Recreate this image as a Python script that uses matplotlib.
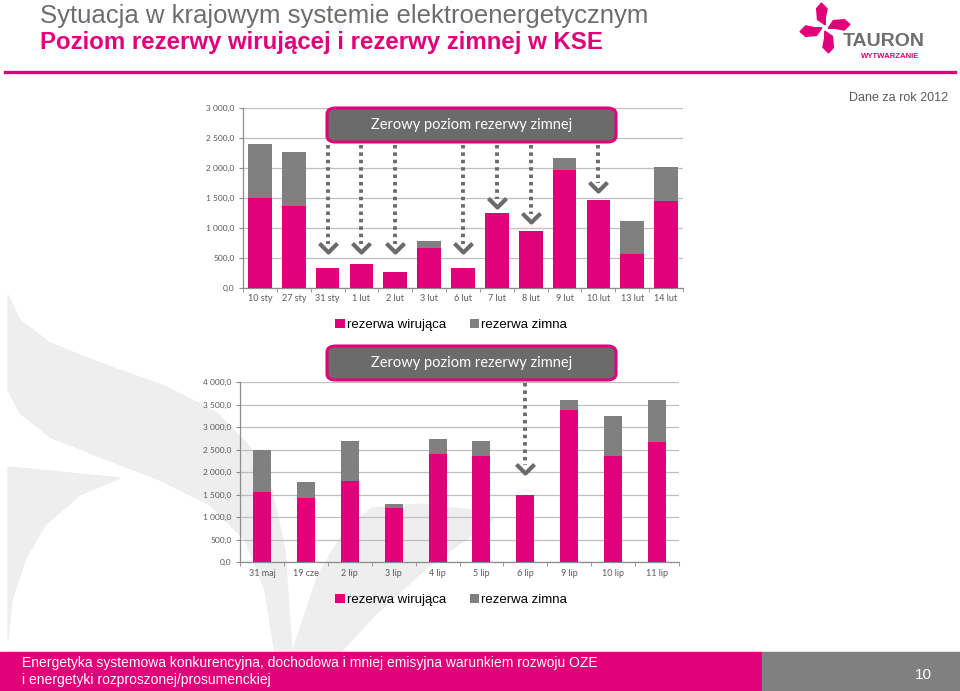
import numpy as np
import matplotlib
matplotlib.use("Agg")
import matplotlib.pyplot as plt
from matplotlib.patches import Polygon, Rectangle, FancyBboxPatch
from matplotlib.path import Path
from matplotlib.ticker import FuncFormatter, FixedLocator

# dane - wykres 1 (styczen/luty)
dni_1 = ["10 sty", "27 sty", "31 sty", "1 lut", "2 lut", "3 lut", "6 lut",
         "7 lut", "8 lut", "9 lut", "10 lut", "13 lut", "14 lut"]
wirujaca_1 = [1500, 1365, 330, 385, 258, 665, 330, 1250, 945, 1960, 1465, 555, 1450]
zimna_1 = [905, 905, 0, 0, 0, 118, 0, 0, 0, 205, 0, 555, 560]
strzalki_1 = ["31 sty", "1 lut", "2 lut", "6 lut", "7 lut", "8 lut", "10 lut"]
koniec_1 = [600, 600, 600, 600, 1350, 1100, 1620]

# dane - wykres 2 (maj/lipiec)
dni_2 = ["31 maj", "19 cze", "2 lip", "3 lip", "4 lip", "5 lip", "6 lip",
         "9 lip", "10 lip", "11 lip"]
wirujaca_2 = [1570, 1420, 1810, 1210, 2395, 2360, 1500, 3380, 2360, 2675]
zimna_2 = [915, 360, 890, 75, 340, 340, 0, 220, 885, 925]
strzalki_2 = ["6 lip"]
koniec_2 = [1975]

PINK = "#E2007A"
GREY = "#808080"
BOX = "#6B6B6B"
W, H = 960, 691

fig = plt.figure(figsize=(9.6, 6.91), dpi=100)


def px(x, y):
    return (x / W, 1 - y / H)


def fig_poly(pts, **kw):
    fig.patches.append(Polygon([px(*p) for p in pts], closed=True,
                               transform=fig.transFigure, **kw))


# tlo - szare wstegi (pod wykresami)
wm = "#EEEEEE"
fig_poly([(8, 295), (20, 320), (50, 343), (100, 363), (167, 387), (217, 413),
          (250, 447), (272, 490), (285, 550), (292, 653), (275, 653), (265, 590),
          (245, 540), (210, 505), (160, 480), (100, 457), (50, 437), (20, 413),
          (8, 390)], color=wm, zorder=-5)
fig_poly([(8, 467), (120, 478), (80, 495), (45, 525), (25, 560), (12, 600),
          (8, 640)], color=wm, zorder=-5)
fig_poly([(292, 653), (318, 575), (345, 530), (372, 508), (420, 504), (470, 510),
          (493, 520), (430, 565), (375, 615), (340, 653)], color=wm, zorder=-5)

# naglowek
sans = ["Liberation Sans", "DejaVu Sans"]
fig.text(*px(40, 16), "Sytuacja w krajowym systemie elektroenergetycznym",
         family=sans, fontsize=18.5, color="#6D6D6D", va="center", ha="left")
fig.text(*px(40, 43), "Poziom rezerwy wirującej i rezerwy zimnej w KSE",
         family=sans, fontsize=17.3, color=PINK, weight="bold", va="center", ha="left")
fig.lines.append(plt.Line2D([5 / W, 955 / W], [1 - 72 / H] * 2, color=PINK, lw=2.4,
                            transform=fig.transFigure))

# logo
cx, cy = 825, 28
petal = np.array([[1, 3], [-5, 10], [-3, 21], [3, 25], [7, 18], [3, 10]], float)
for k in range(4):
    a = np.deg2rad(90 * k + 15)
    rot = np.array([[np.cos(a), -np.sin(a)], [np.sin(a), np.cos(a)]])
    p = petal @ rot.T
    fig_poly([(cx + q[0], cy - q[1]) for q in p], color=PINK, zorder=2)
fig.text(*px(884, 42), "TAURON", family=sans, fontsize=14, color="#6D6E71",
         weight="bold", ha="center", va="center")
fig.text(*px(890, 56), "WYTWARZANIE", family=sans,
         fontsize=5.6, color=PINK, weight="bold", ha="center", va="center")

fig.text(*px(948, 98), "Dane za rok 2012", family=sans,
         fontsize=9, color="#595959", ha="right", va="center")


def fmt(v, _):
    return f"{v:,.1f}".replace(",", " ").replace(".", ",")


def wykres(rect, dni, wir, zim, ymax, szer, strz, kon, box_y, leg_y):
    ax = fig.add_axes(rect, zorder=1)
    ax.set_facecolor("none")
    x = np.arange(len(dni))
    ax.bar(x, wir, width=szer, color=PINK, zorder=3, label="rezerwa wirująca")
    ax.bar(x, zim, width=szer, bottom=wir, color=GREY, zorder=3, label="rezerwa zimna")
    ax.set_xlim(-0.5, len(dni) - 0.5)
    ax.set_ylim(0, ymax)
    ax.set_yticks(np.arange(0, ymax + 1, 500))
    ax.yaxis.set_major_formatter(FuncFormatter(fmt))
    ax.grid(axis="y", color="#BFBFBF", lw=0.9, zorder=0)
    ax.set_xticks(x)
    ax.set_xticklabels(dni)
    ax.xaxis.set_minor_locator(FixedLocator(np.arange(-0.5, len(dni), 1)))
    ax.tick_params(axis="x", which="major", length=0, pad=5, labelsize=6.5,
                   labelcolor="#595959")
    ax.tick_params(axis="x", which="minor", length=3, color="#8C8C8C", direction="out")
    ax.tick_params(axis="y", length=3, color="#8C8C8C", labelsize=6, labelcolor="#595959",
                   pad=3)
    for lab in ax.get_xticklabels() + ax.get_yticklabels():
        lab.set_family(["Lato", "DejaVu Sans"])
    for s in ["top", "right"]:
        ax.spines[s].set_visible(False)
    for s in ["left", "bottom"]:
        ax.spines[s].set_color("#8C8C8C")
        ax.spines[s].set_linewidth(0.9)

    # ramka "Zerowy poziom..."
    x0, x1 = 327, 616
    y0, y1 = box_y, box_y + 34
    bx = FancyBboxPatch(px(x0, y1), (x1 - x0) / W, (y1 - y0) / H,
                        boxstyle="round,pad=0,rounding_size=0.009",
                        transform=fig.transFigure, fc=BOX, ec=PINK, lw=2.2, zorder=5)
    fig.patches.append(bx)
    fig.text(*px((x0 + x1) / 2, (y0 + y1) / 2), "Zerowy poziom rezerwy zimnej",
             family=["Lato", "DejaVu Sans"], fontsize=10.5, color="white",
             ha="center", va="center", zorder=6)

    # strzalki
    y_start = ax.transData.inverted().transform(
        fig.transFigure.transform(px(0, y1 + 3)))[1]
    chevron = Path([(-1, 1), (0, 0), (1, 1)], [Path.MOVETO, Path.LINETO, Path.LINETO])
    for d, k in zip(strz, kon):
        i = dni.index(d)
        tip = ax.transData.inverted().transform(
            ax.transData.transform((i, k)) + np.array([0, 8]))[1]
        ax.plot([i, i], [y_start, tip], color=BOX, lw=2.8,
                linestyle=(0, (0.9, 1.0)), zorder=4, clip_on=False)
        ax.plot([i], [k], marker=chevron, markersize=13, markerfacecolor="none",
                markeredgecolor=BOX, markeredgewidth=3, zorder=4, clip_on=False)

    fig.legend(*ax.get_legend_handles_labels(), loc="center", ncol=2,
               bbox_to_anchor=px(451, leg_y), frameon=False,
               handlelength=0.7, handleheight=0.7, handletextpad=0.15,
               columnspacing=1.8, prop={"family": sans, "size": 9.5})
    return ax


wykres([243 / W, 1 - 287.5 / H, 440 / W, 179.5 / H], dni_1, wirujaca_1, zimna_1,
       3000, 0.7, strzalki_1, koniec_1, 108, 325)
wykres([240 / W, 1 - 562.3 / H, 439 / W, 180.3 / H], dni_2, wirujaca_2, zimna_2,
       4000, 0.41, strzalki_2, koniec_2, 346, 600)

# stopka
fig.patches.append(Rectangle(px(0, 691), 762 / W, 39 / H, transform=fig.transFigure,
                             color=PINK, zorder=1))
fig.patches.append(Rectangle(px(762, 691), 198 / W, 39 / H, transform=fig.transFigure,
                             color="#808080", zorder=1))
fig.text(*px(22, 663), "Energetyka systemowa konkurencyjna, dochodowa i mniej emisyjna "
         "warunkiem rozwoju OZE", family=sans, fontsize=10, color="white",
         ha="left", va="center")
fig.text(*px(22, 680), "i energetyki rozproszonej/prosumenckiej", family=sans,
         fontsize=10, color="white", ha="left", va="center")
fig.text(*px(932, 675), "10", family=sans, fontsize=11, color="white",
         ha="right", va="center")

fig.savefig("out.png", dpi=100)
